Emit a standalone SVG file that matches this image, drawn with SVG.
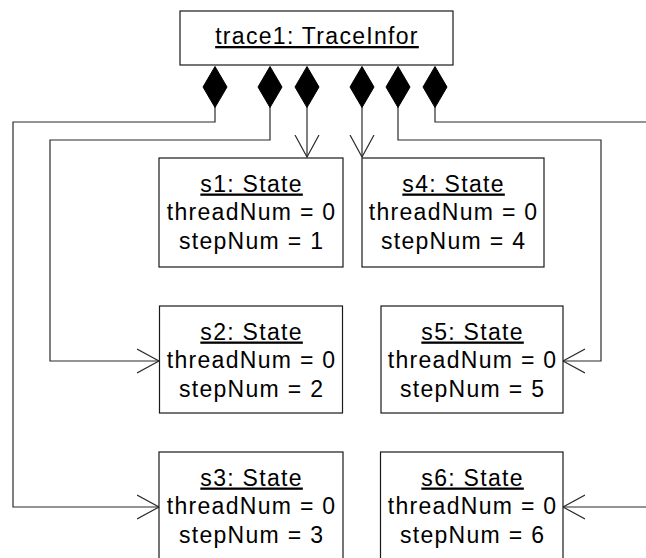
<svg xmlns="http://www.w3.org/2000/svg" width="646" height="558" viewBox="0 0 646 558">
  <style>
    .box { fill: #ffffff; stroke: #1a1a1a; stroke-width: 1.2; }
    .lbl { font-family: "Liberation Sans", Arial, sans-serif; font-size: 23px; letter-spacing: 1.3px; fill: #000000; text-anchor: middle; }
    .name { text-decoration: underline; }
    .link { fill: none; stroke: #2a2a2a; stroke-width: 1.2; }
    .comp { fill: #000000; stroke: #000000; stroke-width: 1; }
  </style>
  <defs>
    <!-- open "V" arrowhead for navigable association ends -->
    <marker id="open" viewBox="0 0 24 26" markerWidth="24" markerHeight="26" refX="22" refY="13" orient="auto" markerUnits="userSpaceOnUse">
      <path d="M0,1 L22,13 L0,25" fill="none" stroke="#2a2a2a" stroke-width="1.2"/>
    </marker>
    <!-- filled composition diamond, centred on x = 0 -->
    <path id="diamond" d="M0,66.5 L12,87 L0,107.5 L-12,87 Z"/>
  </defs>

  <!-- composition links from the trace to its states -->
  <g id="connectors">
    <path class="link" d="M215,107 V122 H13 V507 H159" marker-end="url(#open)"/>
    <path class="link" d="M270,107 V140 H50 V361 H159" marker-end="url(#open)"/>
    <path class="link" d="M307,107 V157" marker-end="url(#open)"/>
    <path class="link" d="M362,107 V157" marker-end="url(#open)"/>
    <path class="link" d="M398,107 V140 H601 V361 H563" marker-end="url(#open)"/>
    <path class="link" d="M435,107 V122 H700 V507 H563" marker-end="url(#open)"/>
    <use href="#diamond" x="215" class="comp"/>
    <use href="#diamond" x="270" class="comp"/>
    <use href="#diamond" x="307" class="comp"/>
    <use href="#diamond" x="362" class="comp"/>
    <use href="#diamond" x="398" class="comp"/>
    <use href="#diamond" x="435" class="comp"/>
  </g>

  <g id="trace1">
    <rect class="box" x="180" y="11" width="273" height="54"/>
    <text class="lbl name" x="317" y="44">trace1: TraceInfor</text>
  </g>

  <g id="s1">
    <rect class="box" x="159" y="158" width="184" height="109"/>
    <text class="lbl name" x="251.6" y="191.5">s1: State</text>
    <text class="lbl" x="251.6" y="220">threadNum = 0</text>
    <text class="lbl" x="251.6" y="248.5">stepNum = 1</text>
  </g>

  <g id="s4">
    <rect class="box" x="362" y="158" width="182" height="109"/>
    <text class="lbl name" x="453.6" y="191.5">s4: State</text>
    <text class="lbl" x="453.6" y="220">threadNum = 0</text>
    <text class="lbl" x="453.6" y="248.5">stepNum = 4</text>
  </g>

  <g id="s2">
    <rect class="box" x="159.5" y="306" width="183" height="107"/>
    <text class="lbl name" x="251.6" y="339.5">s2: State</text>
    <text class="lbl" x="251.6" y="368">threadNum = 0</text>
    <text class="lbl" x="251.6" y="396.5">stepNum = 2</text>
  </g>

  <g id="s5">
    <rect class="box" x="381" y="306" width="182" height="107"/>
    <text class="lbl name" x="472.6" y="339.5">s5: State</text>
    <text class="lbl" x="472.6" y="368">threadNum = 0</text>
    <text class="lbl" x="472.6" y="396.5">stepNum = 5</text>
  </g>

  <g id="s3">
    <rect class="box" x="159" y="452" width="184" height="120"/>
    <text class="lbl name" x="251.6" y="485.5">s3: State</text>
    <text class="lbl" x="251.6" y="514">threadNum = 0</text>
    <text class="lbl" x="251.6" y="542.5">stepNum = 3</text>
  </g>

  <g id="s6">
    <rect class="box" x="380.5" y="452" width="182.5" height="120"/>
    <text class="lbl name" x="472.6" y="485.5">s6: State</text>
    <text class="lbl" x="472.6" y="514">threadNum = 0</text>
    <text class="lbl" x="472.6" y="542.5">stepNum = 6</text>
  </g>
</svg>
